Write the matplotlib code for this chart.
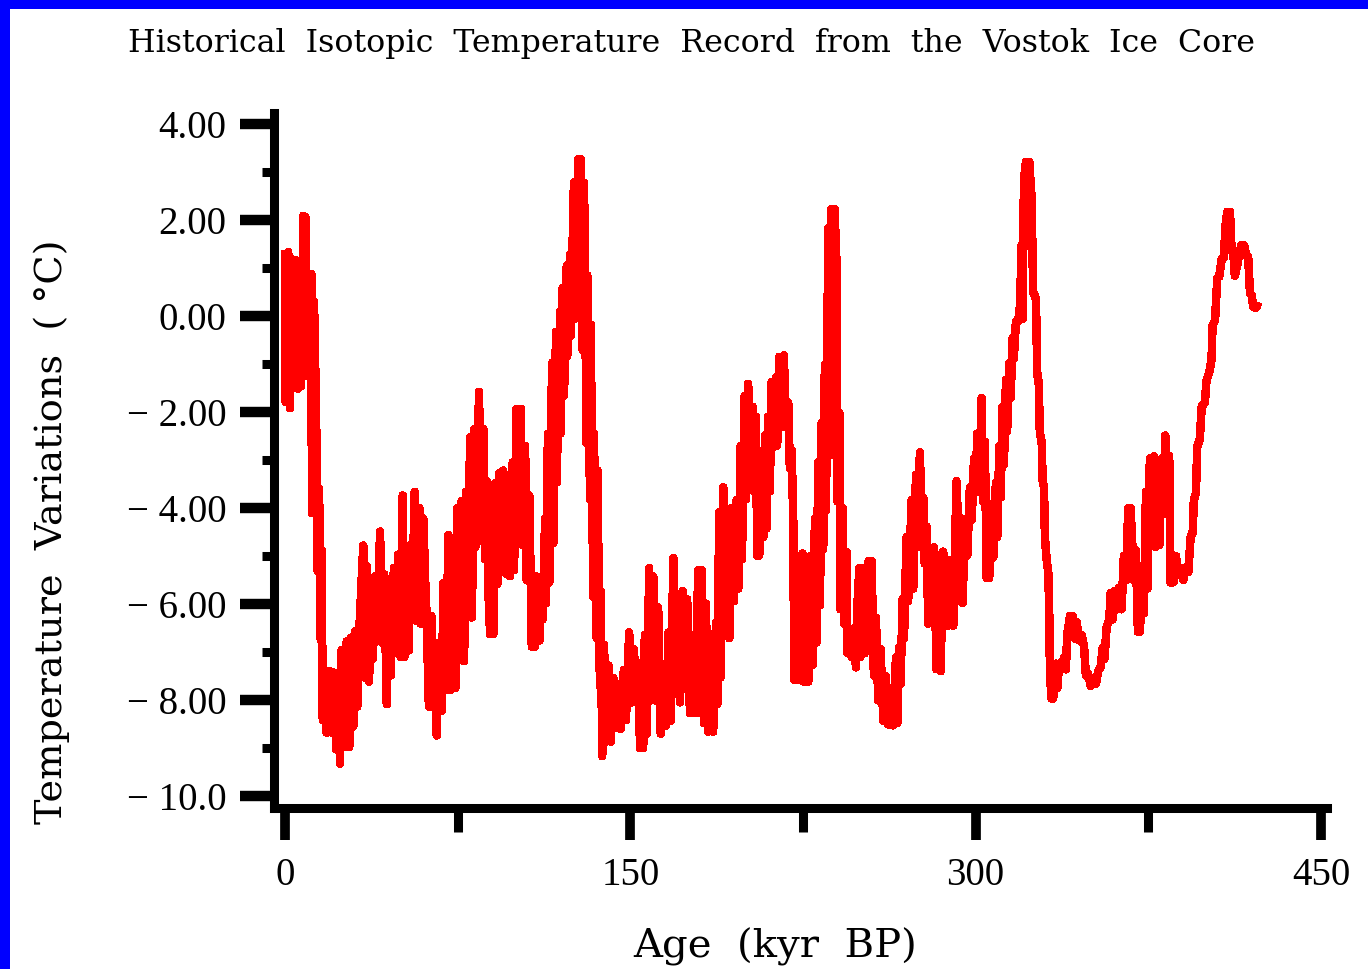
import matplotlib
matplotlib.use("Agg")
import matplotlib.pyplot as plt
from matplotlib.patches import Rectangle
from matplotlib.ticker import FixedLocator

# Vostok isotopic temperature record
age_kyr = [
    0.0, 0.3, 1.4, 2.2, 2.9, 3.9, 4.8, 5.6, 6.2, 6.8,
    8.0, 8.1, 8.8, 9.4, 10.3, 11.0, 11.4, 11.7, 12.6, 13.5,
    14.2, 14.8, 15.5, 15.9, 16.4, 17.4, 18.1, 19.3, 20.3, 21.3,
    22.2, 23.2, 23.9, 24.6, 25.6, 26.8, 27.9, 28.8, 29.7, 30.5,
    31.4, 32.3, 34.0, 34.6, 35.5, 36.5, 37.4, 38.1, 39.0, 39.8,
    41.3, 42.1, 43.1, 44.2, 45.0, 45.9, 47.3, 47.9, 49.1, 50.2,
    51.1, 51.9, 52.8, 53.7, 54.3, 55.2, 56.3, 57.2, 58.4, 59.0,
    60.1, 60.8, 61.5, 62.5, 63.6, 64.4, 65.4, 65.9, 66.9, 68.1,
    68.8, 69.8, 71.0, 72.0, 73.1, 74.0, 74.9, 75.7, 76.7, 77.8,
    78.6, 79.3, 80.4, 81.2, 82.1, 82.7, 84.3, 85.0, 86.2, 86.9,
    87.6, 88.3, 89.1, 90.5, 91.4, 92.2, 93.1, 94.1, 94.8, 96.0,
    96.9, 97.7, 98.9, 99.5, 100.6, 101.4, 102.4, 103.2, 104.3, 105.0,
    106.1, 107.2, 108.6, 109.3, 110.5, 111.5, 111.9, 113.0, 113.4, 114.2,
    114.8, 116.0, 116.6, 117.7, 118.0, 119.5, 119.8, 120.6, 121.2, 122.4,
    122.6, 123.8, 124.1, 125.5, 125.8, 127.4, 127.9, 128.4, 129.3, 129.9,
    131.0, 131.3, 132.5, 132.8, 133.9, 134.2, 135.4, 135.7, 136.8, 137.1,
    137.8, 138.6, 139.4, 140.5, 141.5, 142.6, 143.8, 144.8,
    145.8, 147.2, 148.1, 149.5, 150.6, 151.6, 152.4, 153.5, 154.2, 155.6,
    156.3, 157.1, 158.2, 158.8, 160.0, 161.1, 162.1, 163.2, 164.3, 165.5,
    166.6, 167.5, 168.7, 169.4, 170.5, 171.6, 172.7, 173.9, 174.7, 175.9,
    177.1, 178.1, 179.5, 180.2, 181.0, 182.0, 182.8, 183.9, 184.9, 186.0,
    187.2, 187.8, 188.6, 189.2, 190.4, 191.1, 192.1, 193.0, 194.0, 195.0,
    196.2, 196.9, 197.9, 198.5, 199.6, 200.2, 201.2, 202.3, 203.1, 203.7,
    204.6, 205.1, 206.0, 207.0, 207.8, 208.5, 209.2, 209.9, 210.6, 211.4,
    212.1, 213.3, 213.8, 214.7, 215.3, 216.7, 217.6, 218.6, 219.3, 220.1,
    220.8, 221.2, 222.2, 223.0, 223.7, 224.8, 225.4, 226.6, 227.3, 228.3,
    229.2, 230.2, 230.9, 231.6, 232.4, 233.1, 233.8, 234.5, 235.0, 236.0,
    236.4, 237.4, 238.2, 238.7, 239.6, 240.0, 240.8, 241.3, 242.2, 242.8,
    243.9, 244.2, 245.4, 246.1, 247.1, 248.0, 248.6, 249.5, 250.0, 250.9,
    251.9, 252.6, 253.5, 254.1, 254.8, 255.8, 256.7, 257.7, 258.7, 259.9,
    261.0, 262.0, 263.5, 264.2, 265.4, 266.0, 266.8, 267.4, 268.3, 268.9,
    270.0, 270.7, 272.2, 272.9, 274.1, 274.6, 275.8, 276.5, 277.3, 277.9,
    278.7, 279.4, 280.4, 281.3, 282.0, 283.0, 284.2, 284.8, 285.9, 287.4,
    288.1, 289.1, 290.3, 291.7, 292.9, 293.9, 294.3, 295.4, 296.4, 297.5,
    298.3, 299.3, 300.1, 300.7, 301.6, 302.6, 303.3, 304.0, 304.8, 305.9,
    306.9, 307.7, 308.8, 309.4, 310.3, 310.9, 311.7, 312.3, 313.2, 313.7,
    314.6, 315.2, 316.1, 316.6, 317.5, 318.5, 319.3, 320.0, 320.4, 321.0,
    321.9, 322.4, 323.3, 324.3, 325.0, 326.2, 326.8, 327.4, 327.9, 328.7,
    329.1, 329.7, 330.1, 330.8, 331.6, 332.0, 332.3, 333.0, 333.7, 334.9,
    335.5, 336.3, 337.4, 338.4, 339.2, 339.8, 341.0, 342.1, 343.1, 343.9,
    345.0, 346.0, 347.1, 347.9, 348.9, 350.0, 351.1, 352.3, 353.3, 354.3,
    355.2, 356.0, 356.9, 358.1, 358.6, 359.5, 360.5, 361.5, 362.4, 363.4,
    364.4, 365.3, 366.3, 367.3, 368.2, 368.8, 369.6, 370.5, 371.4, 372.1,
    373.1, 374.0, 374.6, 375.7, 376.6, 377.5, 378.0, 378.9, 379.8, 380.8,
    381.5, 382.4, 383.3, 384.1, 384.7, 385.9, 387.0, 388.0, 389.0, 390.2,
    391.4, 392.4, 393.4, 394.3, 394.8, 395.7, 396.3, 397.4, 398.2, 399.6,
    400.3, 401.5, 402.5, 402.9, 404.0, 405.0, 405.8, 406.9, 407.9, 408.5,
    409.3, 410.5, 411.2, 411.9, 412.6, 413.7, 414.5, 415.5, 416.6, 417.7,
    418.4, 419.2, 419.9, 420.6, 421.8, 422.8,
]
temp_c = [
    1.37, -1.79, 1.33, -1.92, 1.18, -1.36, 1.16, -1.51, 0.52, -1.47,
    2.09, -1.17, 2.07, -1.25, 0.88, -1.17, 0.88, -4.11, 0.30, -2.03,
    -5.31, -3.59, -6.74, -4.88, -8.42, -7.47, -8.68, -7.39, -8.68, -7.43,
    -9.03, -7.56, -9.33, -6.96, -8.98, -6.78, -8.98, -6.70, -8.55, -6.57,
    -8.14, -6.52, -4.78, -7.53, -5.21, -7.62, -5.90, -7.14, -5.43, -6.78,
    -4.49, -6.80, -5.38, -8.09, -5.86, -7.49, -5.25, -6.93, -4.97, -7.10,
    -3.74, -7.10, -4.95, -6.97, -4.78, -6.28, -3.66, -6.35, -4.00, -6.41,
    -4.22, -5.40, -6.25, -8.14, -6.25, -8.14, -6.81, -8.74, -6.81, -8.22,
    -5.56, -7.79, -4.56, -7.79, -4.69, -7.75, -4.00, -7.06, -3.85, -7.19,
    -3.66, -6.28, -2.53, -6.28, -2.36, -4.81, -1.58, -4.68, -2.36, -5.07,
    -3.44, -5.68, -6.63, -6.63, -3.48, -5.59, -3.27, -4.94, -3.22, -5.37,
    -3.31, -5.42, -3.05, -5.29, -1.93, -4.47, -1.93, -4.77, -2.71, -5.50,
    -3.74, -6.89, -6.89, -5.43, -6.76, -5.43, -6.32, -4.22, -5.98, -2.45,
    -5.55, -0.98, -4.73, -0.33, -3.47, 0.10, -2.44, 0.58, -1.66, 1.05,
    -0.84, 1.27, -0.41, 2.78, -0.06, 3.27, 0.24, 3.27, -0.71, 2.78,
    -2.65, 0.85, -3.82, -0.18, -5.85, -2.45, -6.71, -3.22, -7.71, -5.73,
    -9.17, -6.85, -8.87, -7.28, -8.87, -7.54, -8.57, -7.67,
    -8.60, -7.37, -8.42, -6.59, -8.05, -6.94, -8.05, -7.23, -9.00, -9.00,
    -6.64, -8.70, -5.25, -8.01, -5.43, -8.01, -6.07, -8.70, -7.37, -8.53,
    -6.59, -8.44, -5.04, -7.88, -5.99, -8.05, -5.73, -7.75, -5.90, -8.27,
    -6.64, -8.27, -5.30, -8.27, -5.30, -8.48, -5.99, -8.66, -7.07, -8.66,
    -6.38, -8.09, -4.09, -7.53, -3.57, -6.45, -4.22, -6.71, -4.00, -5.94,
    -3.83, -5.68, -2.71, -5.07, -1.67, -3.82, -1.41, -3.13, -1.89, -3.65,
    -2.10, -4.99, -4.99, -3.61, -4.60, -2.49, -4.42, -2.10, -3.65, -1.37,
    -2.74, -1.28, -2.70, -0.85, -2.31, -0.82, -2.31, -1.80, -3.17, -2.79,
    -4.30, -7.58, -6.11, -7.58, -5.82, -4.95, -7.62, -5.86, -7.62, -5.00,
    -7.27, -4.22, -6.80, -3.05, -6.02, -2.23, -4.86, -1.02, -4.04, 1.83,
    -2.91, 2.23, -1.88, 2.23, 1.05, -3.86, -2.02, -6.11, -4.00, -6.41,
    -4.91, -7.02, -6.51, -7.10, -6.51, -7.32, -6.07, -5.25, -7.10, -5.25,
    -7.02, -5.99, -5.11, -6.93, -5.11, -7.49, -6.29, -8.01, -6.94, -8.44,
    -7.50, -8.51, -8.03, -8.53, -7.11, -8.48, -6.90, -7.66, -5.90, -6.71,
    -4.61, -5.94, -3.83, -5.68, -3.31, -4.81, -2.84, -4.34, -3.79, -5.16,
    -4.39, -6.41, -4.95, -6.41, -4.82, -7.36, -5.04, -7.40, -4.91, -5.59,
    -6.45, -5.08, -6.45, -3.44, -5.12, -4.22, -5.98, -4.43, -4.99, -3.57,
    -4.25, -2.97, -3.56, -2.45, -3.67, -1.71, -3.86, -2.62, -5.46, -5.46,
    -3.92, -5.03, -3.48, -4.60, -2.71, -3.78, -1.89, -3.09, -1.33, -2.40,
    -0.98, -1.70, -0.46, -0.88, -0.12, -0.11, 0.23, 1.48, -0.06, 2.86,
    3.21, 1.62, 3.21, 2.47, 0.50, 0.36, -1.23, -1.37, -2.44, -2.62,
    -3.43, -3.57, -4.60, -5.04, -5.37, -6.24, -7.49, -7.97, -7.97, -7.24,
    -7.75, -7.24, -7.36, -7.11, -7.36, -6.64, -6.25, -6.25, -6.72, -6.38,
    -6.76, -6.64, -6.89, -7.49, -7.46, -7.71, -7.56, -7.66, -7.39, -7.32,
    -6.91, -7.14, -6.48, -6.31, -5.77, -6.32, -5.73, -6.11, -5.66, -6.11,
    -5.00, -5.50, -4.00, -4.00, -4.90, -5.50, -4.88, -6.58, -6.58, -5.56,
    -6.19, -3.66, -5.68, -2.97, -4.64, -2.92, -4.81, -3.40, -4.77, -2.97,
    -4.12, -2.49, -4.12, -2.92, -5.55, -5.55, -5.00, -5.37, -5.25, -5.50,
    -5.23, -5.33, -4.61, -4.51, -3.83, -3.69, -2.71, -2.57, -1.89, -1.79,
    -1.34, -1.17, -0.91, -0.20, -0.09, 0.79, 0.82, 1.18, 1.23, 1.87,
    2.17, 2.17, 1.35, 1.35, 0.84, 1.08, 1.31, 1.48, 1.47, 1.25,
    1.23, 0.47, 0.43, 0.20, 0.17, 0.28,
]

y_major = [4, 2, 0, -2, -4, -6, -8, -10]
y_major_labels = ["4.00", "2.00", "0.00", "\u2212 2.00", "\u2212 4.00",
                  "\u2212 6.00", "\u2212 8.00", "\u2212 10.0"]
y_minor = [3, 1, -1, -3, -5, -7, -9]
x_major = [0, 150, 300, 450]
x_minor = [75, 225, 375]

W, H = 1368, 969
fig = plt.figure(figsize=(W / 100, H / 100), dpi=100)
fig.patch.set_facecolor("white")

ax = fig.add_axes([273.5 / W, 161 / H, 1053.4 / W, 695 / H])
ax.plot(age_kyr, temp_c, color="#ff0000", lw=5.4, solid_joinstyle="round",
        solid_capstyle="butt", antialiased=False)
ax.set_xlim(-5, 452.6)
ax.set_ylim(-10.25, 4.23)

for side in ["top", "right"]:
    ax.spines[side].set_visible(False)
for side in ["left", "bottom"]:
    ax.spines[side].set_linewidth(6.5)
    ax.spines[side].set_color("black")

ax.yaxis.set_major_locator(FixedLocator(y_major))
ax.yaxis.set_minor_locator(FixedLocator(y_minor))
ax.xaxis.set_major_locator(FixedLocator(x_major))
ax.xaxis.set_minor_locator(FixedLocator(x_minor))
ax.set_yticklabels(y_major_labels, fontfamily="Liberation Serif", fontsize=28)
ax.set_xticklabels([str(v) for v in x_major], fontfamily="Liberation Serif",
                   fontsize=28)

ax.tick_params(axis="y", which="major", length=24.5, width=7.5, pad=9.5,
               direction="out", color="black")
ax.tick_params(axis="y", which="minor", length=8.6, width=6.5,
               direction="out", color="black")
ax.tick_params(axis="x", which="major", length=23, width=7, pad=12,
               direction="out", color="black")
ax.tick_params(axis="x", which="minor", length=17, width=6.5,
               direction="out", color="black")

fig.text(691.5 / W, 1 - 52 / H,
         "Historical  Isotopic  Temperature  Record  from  the  Vostok  Ice  Core",
         ha="center", va="baseline", fontfamily="DejaVu Serif", fontsize=22.8)
fig.text(52 / W, 1 - 532 / H, "Temperature  Variations  ( \u00b0C)",
         rotation=90, ha="center", va="center", fontfamily="DejaVu Serif",
         fontsize=27.5)
fig.text(775 / W, 1 - 957 / H, "Age  (kyr  BP)", ha="center", va="baseline",
         fontfamily="DejaVu Serif", fontsize=29)

# blue frame on the left and top edges
fig.add_artist(Rectangle((0, 0), 10 / W, 1, transform=fig.transFigure,
                         color="#0000ff", lw=0, zorder=10))
fig.add_artist(Rectangle((0, 1 - 9 / H), 1, 9 / H, transform=fig.transFigure,
                         color="#0000ff", lw=0, zorder=10))

fig.savefig("out.png", dpi=100, facecolor="white")
